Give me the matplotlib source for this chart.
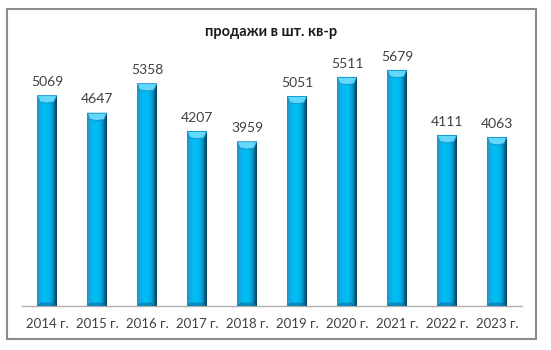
import numpy as np
import matplotlib.pyplot as plt
from matplotlib.colors import LinearSegmentedColormap
from matplotlib.patches import Rectangle, Polygon

# data
years = ["2014 г.", "2015 г.", "2016 г.", "2017 г.", "2018 г.",
         "2019 г.", "2020 г.", "2021 г.", "2022 г.", "2023 г."]
sales = [5069, 4647, 5358, 4207, 3959, 5051, 5511, 5679, 4111, 4063]
title = "продажи в шт. кв-р"

plt.rcParams['font.family'] = ['Lato', 'DejaVu Sans']

fig = plt.figure(figsize=(5.51, 3.5), dpi=100)
fig.patch.set_facecolor('white')
ax = fig.add_axes([22 / 551, 1 - 306 / 350, 500 / 551, 249 / 350])

x = np.arange(len(years))
bars = ax.bar(x, sales, width=0.39, color='#00b8f0', zorder=2)

# horizontal shading to fake the bevelled 3D look
cmap = LinearSegmentedColormap.from_list("bevel", [
    (0.0, "#2a8cbc"), (0.12, "#12a9e2"), (0.35, "#00bdf6"),
    (0.6, "#00b9f2"), (0.78, "#069bcf"), (0.9, "#06628a"), (1.0, "#0b3e56")])
grad = np.linspace(0, 1, 64).reshape(1, -1)
for b in bars:
    x0, w, h = b.get_x(), b.get_width(), b.get_height()
    b.set_facecolor('none')
    b.set_edgecolor('none')
    im = ax.imshow(grad, cmap=cmap, aspect='auto', extent=(x0, x0 + w, 0, h),
                   zorder=3, interpolation='bicubic')
    im.set_clip_path(b)
    d = 150
    cap = [(x0, h), (x0 + w, h), (x0 + w * 0.86, h - d),
           (x0 + w * 0.5, h - d * 1.2), (x0 + w * 0.14, h - d)]
    ax.add_patch(Polygon(cap, closed=True, facecolor='#62d8fc',
                         edgecolor='#1590c4', linewidth=0.6, zorder=4))
    ax.add_patch(Polygon([(x0, 0), (x0 + w, 0), (x0 + w * 0.86, 80), (x0 + w * 0.14, 80)],
                         closed=True, facecolor='#0a6f9a', edgecolor='none', zorder=4, alpha=0.6))
    ax.text(x0 + w / 2, h + 330, f"{h:.0f}", ha='center', va='center',
            fontsize=10, color='#404040')

ax.set_xlim(-0.5, len(years) - 0.5)
ax.set_ylim(0, 6000)
ax.set_xticks(x)
ax.set_xticklabels(years, fontsize=9.5, color='#404040')
ax.set_yticks([])
ax.tick_params(axis='x', length=0, pad=9)
for s in ['top', 'right', 'left']:
    ax.spines[s].set_visible(False)
ax.spines['bottom'].set_color('#b0b0b0')
ax.spines['bottom'].set_linewidth(1.0)

fig.text(271 / 551, 1 - 32 / 350, title, ha='center', va='center',
         fontsize=10.5, fontweight='bold', color='#1a1a1a')

# chart frame
fig.patches.append(Rectangle((7 / 551, 1 - 339 / 350), 529 / 551, 330 / 350,
                             transform=fig.transFigure, fill=False,
                             edgecolor='#8c8c8c', linewidth=1.5))

fig.savefig("out.png", dpi=100, facecolor='white')
